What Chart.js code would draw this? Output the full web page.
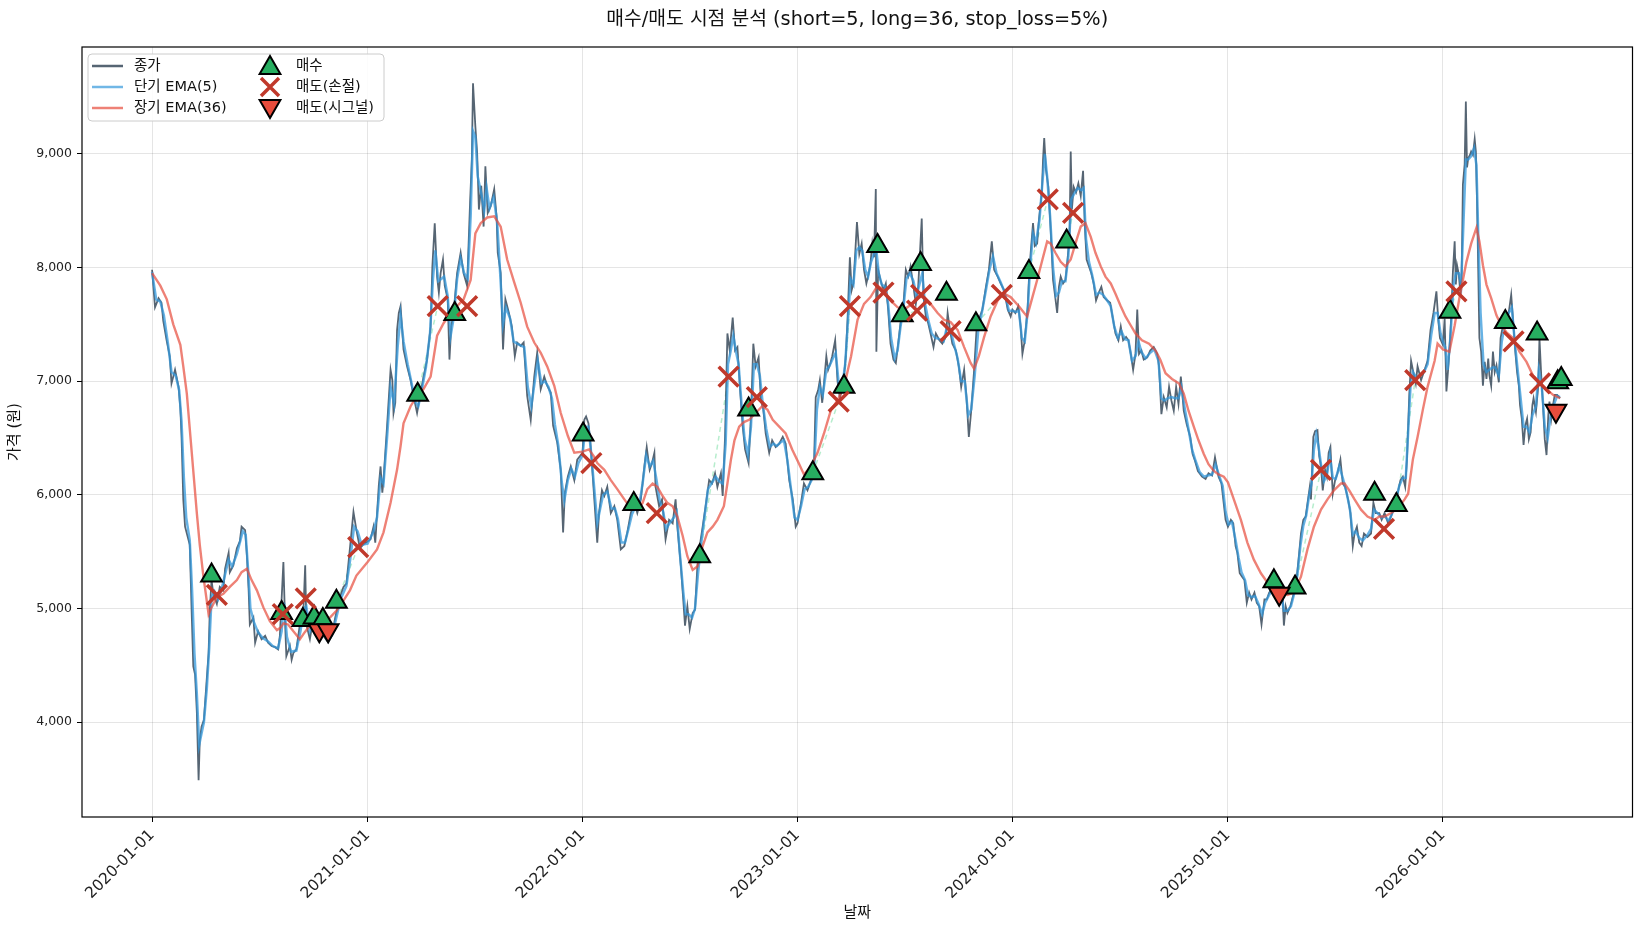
<!DOCTYPE html>
<html>
<head>
<meta charset="utf-8">
<script src="https://cdn.jsdelivr.net/npm/chart.js@4.4.1/dist/chart.umd.min.js"></script>
<style>
html, body { margin: 0; padding: 0; background: #fff; overflow: hidden; }
#wrap { width: 1641px; height: 930px; overflow: hidden; }
canvas { display: block; }
</style>
</head>
<body>
<div id="wrap"><canvas id="chart" width="1650" height="930"></canvas></div>
<script>
// x = days since 2020-01-01
const yearStarts = [0, 366, 731, 1096, 1461, 1827, 2192];
const yearLabels = ['2020-01-01', '2021-01-01', '2022-01-01', '2023-01-01', '2024-01-01', '2025-01-01', '2026-01-01'];
const priceTicks = [4000, 5000, 6000, 7000, 8000, 9000];

// 종가 [day, price]
const closePoints = [
[0,7980],[5,7650],[11,7730],[16,7690],[19,7530],[25,7350],[30,7220],[33,6980],[39,7100],[45,6950],[48,6760],[50,6520],[53,5960],[56,5720],[64,5560],[67,5010],[70,4490],[73,4420],[76,4090],[79,3490],[81,3840],[84,3960],[88,4020],[93,4390],[96,4610],[98,4980],[101,5250],[104,5130],[110,5040],[115,5190],[121,5160],[124,5350],[130,5490],[132,5320],[138,5380],[144,5530],[149,5590],[152,5720],[158,5690],[161,5470],[164,5160],[166,4860],[172,4920],[175,4700],[180,4800],[186,4730],[192,4760],[197,4700],[203,4670],[209,4660],[214,4640],[217,4760],[223,5410],[226,4860],[228,4580],[234,4670],[237,4550],[240,4610],[245,4640],[251,4860],[257,4980],[260,5380],[262,4860],[268,4730],[274,4920],[279,4860],[285,4800],[291,4760],[299,4700],[305,4760],[311,4920],[319,5100],[325,5190],[330,5220],[336,5530],[342,5850],[347,5690],[353,5530],[358,5560],
[371,5610],[376,5720],[379,5580],[385,6080],[388,6250],[391,6020],[393,6130],[399,6600],[405,7100],[408,7010],[410,6720],[413,6810],[416,7450],[419,7600],[422,7660],[425,7430],[427,7280],[433,7130],[439,7010],[444,6870],[450,6720],[456,6900],[461,7040],[467,7190],[473,7480],[476,8010],[480,8390],[484,7920],[487,7780],[490,7950],[494,8070],[497,7840],[502,7720],[505,7190],[508,7480],[512,7600],[518,7950],[524,8130],[529,7950],[535,7840],[540,8570],[543,8950],[545,9620],[549,9240],[552,9010],[555,8510],[559,8720],[563,8360],[566,8890],[570,8480],[575,8540],[581,8690],[585,8450],[587,8130],[592,7950],[596,7280],[600,7720],[606,7600],[611,7480],[616,7220],[620,7340],[626,7310],[631,7340],[637,6870],[643,6660],[649,7040],[654,7250],[660,6930],[666,7040],[671,6960],[677,6900],[681,6610],[688,6460],[694,6220],[698,5670],[701,6020],[706,6160],[711,6250],[717,6130],[722,6310],
[731,6370],[734,6660],[737,6690],[741,6630],[744,6480],[748,6190],[751,5960],[756,5580],[759,5840],[764,6040],[768,5990],[773,6070],[779,5840],[785,5900],[790,5780],[796,5520],[802,5550],[807,5670],[813,5840],[819,5930],[824,5840],[830,5960],[836,6250],[840,6420],[845,6220],[849,6280],[853,6370],[855,6070],[861,5900],[866,5960],[872,5610],[878,5780],[884,5750],[889,5960],[892,5720],[898,5370],[902,5080],[905,4850],[909,5020],[913,4820],[918,4960],[922,4990],[926,5370],[930,5550],[935,5720],[940,5900],[946,6130],[951,6100],[956,6190],[960,6070],[966,6190],[969,5990],[973,6510],[977,7420],[981,7270],[986,7560],[990,7270],[994,7300],[999,6890],[1003,6600],[1007,6400],[1013,6280],[1017,6690],[1021,7330],[1025,7130],[1030,7210],[1034,6830],[1038,6750],[1042,6540],[1048,6370],[1053,6480],[1059,6420],[1065,6450],[1071,6510],[1076,6450],[1082,6130],[1088,5960],[1093,5720],
[1096,5750],[1102,5930],[1107,6100],[1113,6040],[1119,6130],[1124,6250],[1127,6860],[1131,6920],[1134,7010],[1138,6810],[1141,6980],[1145,7220],[1148,7100],[1152,7160],[1155,7220],[1160,7360],[1164,7000],[1168,6850],[1174,6980],[1178,7220],[1181,7540],[1185,8090],[1188,7800],[1191,7860],[1194,8120],[1197,8400],[1201,8120],[1205,8210],[1209,7980],[1213,7860],[1217,7950],[1220,8040],[1223,8210],[1226,8090],[1229,8690],[1230,7260],[1233,7980],[1237,7890],[1242,7800],[1246,7860],[1250,7630],[1254,7330],[1259,7190],[1263,7160],[1267,7330],[1271,7510],[1276,7680],[1280,7980],[1284,7920],[1288,8010],[1293,7830],[1297,7680],[1301,7830],[1307,8430],[1310,7740],[1314,7570],[1318,7510],[1322,7420],[1327,7300],[1331,7420],[1337,7360],[1342,7330],[1348,7390],[1351,7600],[1355,7450],[1359,7330],[1365,7270],[1370,7130],[1374,6950],[1379,7100],[1383,6860],[1387,6510],[1391,6740],[1396,7100],[1400,7450],[1404,7540],[1410,7630],[1416,7830],[1421,7980],[1426,8230],[1430,7980],[1436,7920],[1441,7860],[1447,7800],[1453,7630],[1458,7570],
[1461,7630],[1466,7600],[1471,7660],[1475,7480],[1478,7240],[1481,7330],[1484,7480],[1487,7660],[1489,7890],[1492,8130],[1496,8390],[1499,8190],[1503,8210],[1506,8420],[1511,8660],[1513,8950],[1515,9140],[1518,8860],[1522,8710],[1526,8330],[1530,7890],[1533,7770],[1537,7600],[1540,7830],[1543,7920],[1547,7860],[1551,7890],[1554,8040],[1558,8270],[1560,9020],[1562,8510],[1565,8710],[1569,8660],[1573,8740],[1577,8630],[1581,8850],[1584,8360],[1587,8070],[1591,8010],[1595,7950],[1599,7860],[1603,7710],[1607,7770],[1612,7830],[1616,7740],[1622,7710],[1627,7690],[1632,7540],[1636,7420],[1641,7360],[1645,7480],[1649,7360],[1654,7390],[1658,7360],[1662,7240],[1666,7100],[1670,7240],[1673,7630],[1676,7240],[1680,7270],[1684,7190],[1690,7210],[1695,7270],[1701,7300],[1707,7240],[1710,7130],[1714,6710],[1718,6860],[1723,6770],[1727,6950],[1731,6830],[1735,6740],[1739,6950],[1743,6800],[1747,7040],[1752,6740],[1757,6620],[1763,6510],[1767,6360],[1771,6300],[1776,6210],[1783,6160],[1789,6140],[1794,6190],[1800,6170],[1805,6330],[1811,6160],[1816,6100],
[1823,5780],[1827,5720],[1832,5780],[1836,5750],[1840,5550],[1843,5490],[1847,5310],[1851,5280],[1855,5250],[1859,5050],[1863,5140],[1867,5080],[1872,5140],[1876,5050],[1880,5020],[1884,4860],[1889,5080],[1893,5080],[1897,5140],[1901,5170],[1905,5200],[1911,5200],[1917,5140],[1920,5080],[1922,4850],[1925,5020],[1928,4960],[1933,5020],[1939,5140],[1944,5280],[1948,5490],[1951,5660],[1955,5780],[1959,5810],[1963,5960],[1966,6070],[1968,5960],[1972,6510],[1975,6560],[1979,6570],[1982,6340],[1985,6250],[1988,6040],[1992,6220],[1995,6160],[1998,6370],[2001,6420],[2005,6010],[2009,6130],[2013,6190],[2018,6310],[2022,6100],[2026,6070],[2031,5960],[2035,5840],[2039,5550],[2042,5660],[2046,5720],[2050,5580],[2054,5550],[2058,5660],[2064,5630],[2070,5660],[2074,5930],[2078,5840],[2084,5840],[2088,5780],[2093,5840],[2099,5750],[2104,5810],[2110,5900],[2115,6010],[2120,6130],[2124,6160],[2128,6070],[2131,6310],[2135,6890],[2138,7180],[2141,7100],[2146,6980],[2149,7130],[2155,7010],[2161,7100],[2166,7180],[2171,7450],[2176,7600],[2181,7790],[2184,7550],[2187,7380],
[2192,7320],[2195,7550],[2198,6910],[2201,7110],[2203,7260],[2206,7550],[2209,7960],[2212,8230],[2214,7850],[2216,8020],[2219,7940],[2222,7760],[2224,7960],[2226,8730],[2229,8910],[2231,9460],[2233,8880],[2235,8960],[2238,8990],[2240,9020],[2243,8990],[2246,9130],[2248,9020],[2250,8580],[2252,7990],[2254,7380],[2257,7260],[2260,6960],[2263,7170],[2266,7020],[2269,7200],[2271,7050],[2274,6960],[2277,7260],[2280,7080],[2283,7140],[2287,6990],[2290,7380],[2294,7490],[2297,7550],[2301,7580],[2304,7610],[2308,7760],[2311,7550],[2315,7260],[2318,7080],[2321,6960],[2323,6790],[2326,6670],[2329,6440],[2332,6610],[2335,6670],[2338,6490],[2341,6550],[2344,6790],[2346,6850],[2350,6730],[2354,6960],[2356,7380],[2359,7050],[2362,6790],[2365,6490],[2368,6350],[2371,6700],[2373,6820],[2376,6670],[2379,6790],[2382,6880],[2386,6880],[2391,6850]
];

// 단기 EMA(5)
const ema5Points = [
[0,7960],[7,7720],[14,7700],[20,7580],[27,7330],[33,7080],[40,7050],[46,6920],[50,6650],[54,6150],[58,5800],[64,5600],[68,5150],[72,4600],[76,4250],[80,3800],[84,3900],[88,4000],[93,4300],[97,4650],[101,5100],[106,5150],[112,5080],[118,5170],[124,5300],[130,5430],[136,5370],[144,5480],[150,5600],[154,5680],[159,5650],[163,5350],[167,5000],[173,4880],[180,4790],[188,4740],[197,4710],[205,4670],[214,4650],[220,4800],[224,5050],[229,4750],[236,4620],[245,4630],[252,4800],[258,5000],[262,5020],[268,4800],[275,4880],[282,4840],[291,4770],[299,4720],[306,4770],[312,4900],[320,5080],[330,5200],[337,5450],[343,5720],[349,5680],[356,5560],
[366,5570],[376,5680],[382,5800],[388,6150],[393,6100],[399,6500],[405,6950],[411,6800],[417,7300],[422,7580],[427,7350],[434,7150],[440,7000],[447,6820],[452,6780],[458,6920],[465,7120],[472,7420],[477,7900],[481,8150],[486,7880],[491,7900],[496,7920],[502,7750],[507,7400],[512,7550],[518,7900],[524,8080],[530,7950],[536,7900],[541,8450],[545,9200],[549,9150],[553,8800],[559,8650],[564,8500],[568,8700],[573,8520],[580,8620],[586,8400],[590,8050],[596,7500],[601,7650],[608,7550],[614,7350],[620,7330],[627,7310],[632,7300],[638,6950],[644,6780],[650,7000],[655,7180],[661,6980],[667,7000],[673,6950],[679,6850],[684,6620],[690,6430],[696,6100],[700,5950],[706,6130],[712,6230],[718,6160],[724,6280],
[731,6350],[736,6600],[741,6600],[746,6350],[751,6050],[756,5750],[761,5880],[766,6000],[773,6030],[780,5880],[786,5880],[791,5790],[797,5580],[803,5580],[809,5700],[815,5830],[821,5900],[827,5900],[833,6100],[839,6350],[845,6250],[851,6300],[856,6150],[862,5950],[868,5850],[873,5700],[880,5760],[886,5800],[891,5850],[896,5500],[902,5150],[906,4950],[911,4950],[917,4920],[922,5000],[927,5300],[932,5550],[938,5800],[944,6050],[950,6100],[957,6160],[963,6120],[969,6100],[974,6450],[978,7150],[982,7250],[987,7400],[992,7250],[996,7150],[1001,6800],[1006,6500],[1012,6350],[1017,6600],[1022,7150],[1027,7150],[1032,7050],[1037,6800],[1043,6580],[1049,6420],[1055,6450],[1061,6430],[1067,6460],[1073,6480],[1079,6300],[1085,6050],[1091,5800],[1096,5780],
[1102,5900],[1108,6050],[1114,6070],[1120,6130],[1125,6300],[1129,6750],[1134,6950],[1139,6880],[1145,7100],[1150,7130],[1156,7200],[1161,7250],[1166,6980],[1172,6950],[1177,7150],[1182,7550],[1186,7900],[1191,7850],[1196,8150],[1201,8180],[1206,8150],[1211,7980],[1216,7920],[1221,8050],[1226,8120],[1230,8150],[1234,7950],[1239,7850],[1245,7830],[1250,7680],[1255,7380],[1261,7200],[1266,7270],[1271,7480],[1276,7650],[1281,7900],[1287,7950],[1293,7880],[1298,7750],[1303,7850],[1308,7950],[1312,7700],[1318,7540],[1324,7420],[1330,7380],[1337,7370],[1344,7350],[1350,7480],[1356,7450],[1362,7320],[1368,7200],[1374,7000],[1380,7000],[1386,6700],[1391,6750],[1397,7050],[1403,7450],[1409,7600],[1416,7800],[1422,7980],[1428,8100],[1434,7950],[1441,7870],[1448,7780],[1455,7620],
[1461,7620],[1467,7610],[1472,7620],[1477,7380],[1482,7350],[1487,7620],[1491,8000],[1496,8300],[1501,8220],[1507,8420],[1512,8750],[1516,9000],[1520,8800],[1525,8450],[1530,8000],[1535,7750],[1540,7780],[1545,7880],[1551,7880],[1556,8100],[1561,8600],[1566,8650],[1572,8700],[1578,8680],[1582,8700],[1586,8250],[1591,8050],[1597,7920],[1603,7760],[1609,7780],[1615,7760],[1622,7710],[1628,7660],[1634,7480],[1640,7380],[1646,7440],[1652,7370],[1658,7360],[1664,7180],[1670,7220],[1675,7350],[1680,7260],[1687,7200],[1695,7250],[1702,7280],[1709,7180],[1714,6850],[1719,6830],[1725,6850],[1731,6860],[1737,6850],[1743,6850],[1748,6950],[1754,6750],[1760,6580],[1766,6400],[1772,6300],[1779,6200],[1786,6160],[1793,6170],[1800,6180],[1806,6270],[1812,6170],[1818,6080],[1823,5850],
[1828,5740],[1834,5760],[1840,5600],[1845,5450],[1850,5320],[1856,5250],[1861,5120],[1867,5100],[1873,5110],[1879,5040],[1885,4950],[1890,5050],[1897,5120],[1904,5190],[1911,5190],[1917,5150],[1922,4980],[1928,4980],[1934,5020],[1940,5140],[1945,5300],[1950,5550],[1955,5730],[1960,5820],[1965,6000],[1969,6100],[1973,6400],[1977,6530],[1981,6420],[1986,6230],[1990,6120],[1995,6170],[2000,6350],[2005,6150],[2010,6140],[2016,6250],[2022,6150],[2028,6030],[2034,5880],[2039,5650],[2044,5680],[2050,5620],[2056,5600],[2063,5640],[2070,5700],[2075,5870],[2081,5840],[2088,5800],[2094,5810],[2100,5770],[2106,5840],[2112,5950],[2118,6080],[2124,6150],[2129,6150],[2133,6550],[2137,6950],[2141,7080],[2147,7030],[2153,7050],[2160,7080],[2166,7150],[2172,7400],[2178,7600],[2183,7600],[2188,7420],
[2192,7350],[2196,7300],[2200,7100],[2205,7400],[2210,7850],[2214,7950],[2219,7950],[2223,7850],[2227,8400],[2231,8950],[2235,8950],[2240,8980],[2245,9050],[2249,8900],[2252,8300],[2256,7600],[2261,7150],[2266,7080],[2271,7100],[2276,7120],[2281,7120],[2287,7050],[2292,7350],[2298,7520],[2304,7600],[2309,7650],[2314,7350],[2319,7100],[2324,6850],[2329,6600],[2334,6600],[2339,6550],[2344,6700],[2350,6780],[2355,7100],[2360,6950],[2365,6600],[2370,6500],[2375,6700],[2381,6800],[2386,6870],[2391,6860]
];

// 장기 EMA(36)
const ema36Points = [
[0,7950],[14,7840],[25,7720],[36,7500],[48,7320],[53,7130],[59,6890],[64,6580],[70,6210],[76,5840],[81,5560],[87,5290],[96,4950],[101,5010],[110,5100],[121,5130],[132,5190],[144,5250],[152,5320],[161,5350],[169,5250],[178,5160],[189,5010],[200,4890],[212,4810],[218,4830],[223,4870],[231,4860],[240,4800],[251,4730],[259,4790],[268,4850],[279,4880],[291,4910],[302,4920],[313,4980],[325,5070],[336,5160],[347,5290],[366,5410],
[382,5520],[393,5670],[405,5930],[416,6220],[422,6430],[427,6630],[439,6780],[450,6870],[461,6930],[473,7040],[484,7400],[495,7510],[507,7600],[518,7660],[529,7720],[541,7890],[549,8300],[558,8390],[569,8440],[581,8450],[592,8360],[603,8070],[615,7870],[626,7690],[637,7480],[649,7340],[660,7250],[671,7130],[683,6960],[694,6720],[706,6520],[717,6370],
[731,6380],[742,6400],[750,6340],[756,6280],[768,6220],[779,6130],[790,6050],[802,5960],[813,5880],[824,5870],[833,5930],[841,6050],[850,6100],[858,6070],[867,5990],[875,5930],[884,5900],[892,5810],[901,5640],[909,5460],[918,5340],[926,5370],[935,5550],[943,5670],[952,5720],[960,5780],[971,5900],[977,6100],[983,6310],[989,6480],[997,6600],[1005,6640],[1014,6660],[1025,6720],[1036,6780],[1045,6750],[1054,6660],[1065,6600],[1076,6540],[1087,6400],[1098,6280],
[1107,6180],[1119,6250],[1130,6370],[1141,6540],[1153,6750],[1164,6830],[1175,6950],[1187,7220],[1198,7540],[1209,7680],[1220,7740],[1232,7840],[1243,7800],[1254,7710],[1266,7650],[1277,7630],[1288,7670],[1300,7740],[1311,7740],[1322,7680],[1334,7600],[1345,7540],[1356,7520],[1368,7450],[1379,7300],[1390,7160],[1396,7110],[1404,7220],[1413,7390],[1424,7570],[1436,7710],[1447,7770],[1458,7740],
[1472,7660],[1481,7600],[1486,7570],[1495,7740],[1503,7890],[1512,8070],[1520,8230],[1526,8210],[1534,8130],[1543,8050],[1551,8010],[1560,8070],[1568,8210],[1577,8360],[1585,8390],[1594,8270],[1602,8130],[1611,8010],[1619,7920],[1628,7860],[1636,7770],[1645,7660],[1653,7570],[1662,7490],[1670,7420],[1681,7360],[1693,7330],[1704,7270],[1712,7190],[1721,7070],[1732,7020],[1744,6980],[1752,6890],[1760,6740],[1769,6600],[1777,6480],[1786,6360],[1794,6270],[1803,6210],[1811,6180],[1820,6160],
[1827,6110],[1837,5960],[1849,5780],[1860,5580],[1871,5430],[1883,5310],[1894,5230],[1905,5170],[1917,5140],[1928,5120],[1939,5140],[1951,5280],[1962,5520],[1973,5720],[1985,5870],[1996,5960],[2007,6040],[2019,6100],[2025,6100],[2033,6040],[2042,5960],[2053,5870],[2064,5810],[2076,5780],[2084,5810],[2093,5810],[2104,5840],[2115,5880],[2127,5960],[2133,6010],[2141,6310],[2149,6510],[2158,6750],[2166,6950],[2178,7180],[2183,7330],
[2192,7280],[2203,7260],[2212,7490],[2220,7730],[2232,8050],[2240,8210],[2249,8350],[2254,8230],[2260,8020],[2266,7850],[2274,7730],[2283,7580],[2291,7490],[2300,7430],[2311,7380],[2322,7260],[2334,7170],[2345,7050],[2356,6990],[2368,6930],[2379,6880],[2391,6850]
];

// 매수 / 매도(손절) / 매도(시그널) [day, price]
const buyPoints = [
[101,5290],[220,4960],[256,4900],[275,4920],[290,4900],[313,5060],[451,6880],[514,7590],
[732,6530],[818,5920],[930,5460],[1013,6750],[1122,6190],[1175,6950],[1232,8190],[1274,7580],
[1305,8030],[1349,7770],[1399,7500],[1489,7960],[1553,8230],[1905,5240],[1941,5185],[2076,6010],
[2113,5910],[2204,7610],[2298,7520],[2352,7420],[2387,6990],[2393,7020]
];
const stopLossPoints = [
[110,5120],[222,4950],[261,5090],[350,5540],[485,7660],[535,7660],[746,6280],[857,5840],
[979,7040],[1027,6860],[1166,6820],[1185,7660],[1242,7780],[1299,7620],[1306,7760],[1356,7440],
[1443,7760],[1521,8600],[1564,8480],[1985,6220],[2092,5700],[2145,7010],[2215,7790],[2312,7350],[2357,6980]
];
const signalSellPoints = [[284,4810],[299,4810],[1914,5130],[2384,6740]];

const FONT = '"DejaVu Sans", "Noto Sans CJK KR", sans-serif';
const toXY = pts => pts.map(p => ({ x: p[0], y: p[1] }));

// 수익 거래: 매수 -> 다음 매도, 연한 점선
const sells = stopLossPoints.concat(signalSellPoints).sort((a, b) => a[0] - b[0]);
const tradeLine = [];
buyPoints.forEach(b => {
  const s = sells.find(p => p[0] > b[0]);
  if (s && s[1] > b[1]) tradeLine.push({ x: b[0], y: b[1] }, { x: s[0], y: s[1] }, { x: s[0] + 0.5, y: null });
});

function drawTri(ctx, x, y, r, down, fill) {
  const s = down ? -1 : 1;
  ctx.beginPath();
  ctx.moveTo(x, y - s * r);
  ctx.lineTo(x + r * 0.866, y + s * r / 2);
  ctx.lineTo(x - r * 0.866, y + s * r / 2);
  ctx.closePath();
  ctx.fillStyle = fill;
  ctx.fill();
  ctx.lineWidth = 2;
  ctx.strokeStyle = '#000';
  ctx.stroke();
}

const decor = {
  id: 'decor',
  afterDraw(chart) {
    const { ctx, chartArea: a } = chart;
    ctx.save();
    ctx.strokeStyle = '#000';
    ctx.lineWidth = 1.2;
    ctx.strokeRect(a.left, a.top, a.right - a.left, a.bottom - a.top);

    ctx.fillStyle = '#111';
    ctx.textAlign = 'center';
    ctx.textBaseline = 'middle';
    ctx.font = '19.3px ' + FONT;
    ctx.fillText('매수/매도 시점 분석 (short=5, long=36, stop_loss=5%)', (a.left + a.right) / 2, 20);
    ctx.font = '15px ' + FONT;
    ctx.fillText('날짜', (a.left + a.right) / 2, 913);
    ctx.save();
    ctx.translate(15, (a.top + a.bottom) / 2);
    ctx.rotate(-Math.PI / 2);
    ctx.fillText('가격 (원)', 0, 0);
    ctx.restore();

    // legend
    const lx = 88, ly = 54, lw = 296, lh = 67;
    ctx.beginPath();
    ctx.roundRect(lx, ly, lw, lh, 4);
    ctx.fillStyle = 'rgba(255,255,255,0.85)';
    ctx.fill();
    ctx.strokeStyle = '#cccccc';
    ctx.lineWidth = 1;
    ctx.stroke();

    const rows = [66, 87, 108];
    const lines = [
      ['종가', 'rgba(44,62,80,0.8)'],
      ['단기 EMA(5)', 'rgba(52,152,219,0.7)'],
      ['장기 EMA(36)', 'rgba(231,76,60,0.7)']
    ];
    ctx.font = '14.5px ' + FONT;
    ctx.textAlign = 'left';
    lines.forEach((l, i) => {
      ctx.beginPath();
      ctx.moveTo(92, rows[i]);
      ctx.lineTo(123, rows[i]);
      ctx.strokeStyle = l[1];
      ctx.lineWidth = 2.5;
      ctx.stroke();
      ctx.fillStyle = '#111';
      ctx.fillText(l[0], 134, rows[i]);
    });
    drawTri(ctx, 270, rows[0] + 2, 12, false, '#27ae60');
    ctx.beginPath();
    ctx.moveTo(261, rows[1] - 9); ctx.lineTo(279, rows[1] + 9);
    ctx.moveTo(279, rows[1] - 9); ctx.lineTo(261, rows[1] + 9);
    ctx.strokeStyle = '#c0392b';
    ctx.lineWidth = 3.5;
    ctx.stroke();
    drawTri(ctx, 270, rows[2] - 2, 12, true, '#e74c3c');
    ctx.fillStyle = '#111';
    ctx.fillText('매수', 296, rows[0]);
    ctx.fillText('매도(손절)', 296, rows[1]);
    ctx.fillText('매도(시그널)', 296, rows[2]);
    ctx.restore();
  }
};

const lineDs = (label, pts, color, width, order) => ({
  label, data: toXY(pts), borderColor: color, borderWidth: width,
  pointRadius: 0, tension: 0, fill: false, order
});

new Chart(document.getElementById('chart'), {
  type: 'line',
  data: {
    datasets: [
      { label: '매도(시그널)', data: toXY(signalSellPoints), showLine: false, pointStyle: 'triangle',
        rotation: 180, pointRadius: 12, backgroundColor: '#e74c3c', borderColor: '#000', borderWidth: 2, order: 0 },
      { label: '매도(손절)', data: toXY(stopLossPoints), showLine: false, pointStyle: 'crossRot',
        pointRadius: 14, borderColor: '#c0392b', backgroundColor: '#c0392b', borderWidth: 3.5, order: 1 },
      { label: '매수', data: toXY(buyPoints), showLine: false, pointStyle: 'triangle',
        pointRadius: 12, backgroundColor: '#27ae60', borderColor: '#000', borderWidth: 2, order: 2 },
      lineDs('장기 EMA(36)', ema36Points, 'rgba(231,76,60,0.7)', 2.4, 3),
      lineDs('단기 EMA(5)', ema5Points, 'rgba(52,152,219,0.75)', 2.5, 4),
      lineDs('종가', closePoints, 'rgba(44,62,80,0.8)', 1.8, 5),
      { label: 'trades', data: tradeLine, borderColor: 'rgba(46,204,113,0.35)', borderWidth: 1.5,
        borderDash: [5, 4], pointRadius: 0, spanGaps: false, order: 6 }
    ]
  },
  options: {
    responsive: false,
    animation: false,
    devicePixelRatio: 1,
    events: [],
    layout: { padding: { top: 47, right: 0, left: 0, bottom: 0 } },
    plugins: { legend: { display: false }, tooltip: { enabled: false }, title: { display: false } },
    scales: {
      x: {
        type: 'linear', min: -119, max: 2514,
        afterBuildTicks: s => { s.ticks = yearStarts.map(v => ({ value: v })); },
        afterFit: s => { s.height = 113; s.paddingLeft = 0; s.paddingRight = 0; },
        ticks: {
          autoSkip: false, minRotation: 45, maxRotation: 45, padding: 4,
          color: '#222', font: { family: FONT, size: 15.5 },
          callback: v => yearLabels[yearStarts.indexOf(v)] || ''
        },
        grid: { color: 'rgba(0,0,0,0.1)', lineWidth: 1, tickLength: 5, tickColor: '#000' },
        border: { display: false }
      },
      y: {
        min: 3166, max: 9940,
        afterBuildTicks: s => { s.ticks = priceTicks.map(v => ({ value: v })); },
        afterFit: s => { s.width = 82; s.paddingTop = 0; s.paddingBottom = 0; },
        ticks: {
          padding: 5, color: '#222', font: { family: FONT, size: 12.5 },
          callback: v => v.toLocaleString('en-US')
        },
        grid: { color: 'rgba(0,0,0,0.1)', lineWidth: 1, tickLength: 5, tickColor: '#000' },
        border: { display: false }
      }
    }
  },
  plugins: [decor]
});
</script>
</body>
</html>
